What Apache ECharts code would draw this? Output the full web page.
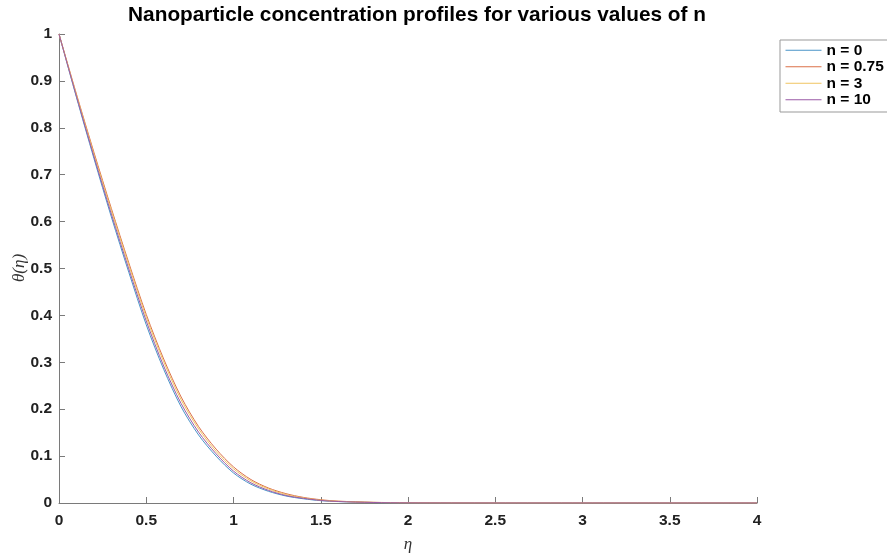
<!DOCTYPE html>
<html>
<head>
<meta charset="utf-8">
<script src="https://cdn.jsdelivr.net/npm/echarts@6/dist/echarts.min.js"></script>
<style>
  html, body { margin: 0; padding: 0; background: #fff; }
</style>
</head>
<body>
<div id="chart" style="width: 887px;height:560px;"></div>
<script>
// eta grid
var eta = [0, 0.1, 0.2, 0.3, 0.4, 0.5, 0.6, 0.7, 0.8, 0.9, 1.0, 1.1, 1.2, 1.3, 1.4, 1.5, 1.6, 1.8, 2.0, 2.5, 3.0, 3.5, 4.0];
// concentration profiles theta(eta)
var theta_n0   = [1, 0.865, 0.735, 0.610, 0.492, 0.380, 0.285, 0.205, 0.145, 0.100, 0.064, 0.040, 0.025, 0.015, 0.009, 0.005, 0.003, 0.001, 0.0003, 0, 0, 0, 0];
var theta_n075 = [1, 0.872, 0.748, 0.628, 0.512, 0.402, 0.307, 0.226, 0.163, 0.115, 0.077, 0.050, 0.032, 0.020, 0.012, 0.007, 0.004, 0.0015, 0.0005, 0, 0, 0, 0];
var theta_n3   = [1, 0.870, 0.744, 0.623, 0.507, 0.396, 0.301, 0.220, 0.158, 0.110, 0.073, 0.047, 0.030, 0.018, 0.011, 0.006, 0.0035, 0.0013, 0.0004, 0, 0, 0, 0];
var theta_n10  = [1, 0.867, 0.739, 0.616, 0.499, 0.388, 0.292, 0.212, 0.151, 0.105, 0.068, 0.043, 0.027, 0.016, 0.010, 0.0055, 0.0032, 0.0011, 0.0003, 0, 0, 0, 0];
var seriesNames = ['n = 0', 'n = 0.75', 'n = 3', 'n = 10'];
var seriesColors = ['#4a94c8', '#db7048', '#f0c460', '#9a5aa6'];

function pairs(ys) {
  var out = [];
  for (var i = 0; i < eta.length; i++) {
    out.push([eta[i], ys[i]]);
  }
  return out;
}

var allData = [theta_n0, theta_n075, theta_n3, theta_n10];
var series = [];
for (var k = 0; k < allData.length; k++) {
  series.push({
    name: seriesNames[k],
    type: 'line',
    symbol: 'none',
    smooth: 0.3,
    data: pairs(allData[k]),
    lineStyle: { color: seriesColors[k], width: 1 },
    itemStyle: { color: seriesColors[k] }
  });
}

var chart = echarts.init(document.getElementById('chart'));
var axisColor = '#7a7a7a';
var option = {
  animation: false,
  backgroundColor: '#fff',
  title: {
    text: 'Nanoparticle concentration profiles for various values of n',
    left: 412,
    textAlign: 'center',
    top: 0,
    textStyle: {
      color: '#000',
      fontFamily: 'Liberation Sans, Arial',
      fontWeight: 'bold',
      fontSize: 20.8
    }
  },
  // y axis title, placed by hand (axis name ignores nameGap here)
  graphic: [{
    type: 'text',
    x: 20,
    y: 268,
    rotation: Math.PI / 2,
    style: {
      text: 'θ(η)',
      fill: '#333',
      font: 'italic 17px "Liberation Serif", serif',
      textAlign: 'center',
      textVerticalAlign: 'middle'
    }
  }],
  legend: {
    orient: 'vertical',
    left: 780,
    top: 40,
    padding: [2, 40, 4, 5],
    itemGap: 0,
    itemWidth: 36,
    itemHeight: 2,
    backgroundColor: '#fff',
    borderColor: '#999',
    borderWidth: 1,
    borderRadius: 0,
    itemStyle: { opacity: 0 },
    lineStyle: { width: 1 },
    data: seriesNames,
    textStyle: {
      color: '#000',
      fontFamily: 'Liberation Sans, Arial',
      fontWeight: 'bold',
      fontSize: 15.5,
      lineHeight: 16.5
    }
  },
  grid: {
    left: 59,
    right: 130,
    top: 34,
    bottom: 57,
    containLabel: false,
    outerBoundsMode: 'none'
  },
  xAxis: {
    type: 'value',
    min: 0,
    max: 4,
    interval: 0.5,
    name: 'η',
    nameLocation: 'middle',
    nameGap: 33,
    nameTextStyle: {
      color: '#333',
      fontFamily: 'Liberation Serif, serif',
      fontStyle: 'italic',
      fontSize: 17
    },
    axisLine: { show: true, lineStyle: { color: axisColor, width: 1 } },
    axisTick: { show: true, inside: true, length: 6, lineStyle: { color: axisColor } },
    splitLine: { show: false },
    axisLabel: {
      color: '#222',
      fontFamily: 'Liberation Sans, Arial',
      fontWeight: 'bold',
      fontSize: 15.5,
      margin: 10
    }
  },
  yAxis: {
    type: 'value',
    min: 0,
    max: 1,
    interval: 0.1,
    axisLine: { show: true, lineStyle: { color: axisColor, width: 1 } },
    axisTick: { show: true, inside: true, length: 6, lineStyle: { color: axisColor } },
    splitLine: { show: false },
    axisLabel: {
      color: '#222',
      fontFamily: 'Liberation Sans, Arial',
      fontWeight: 'bold',
      fontSize: 15.5,
      margin: 7,
      formatter: function (v) { return String(Math.round(v * 10) / 10); }
    }
  },
  series: series
};
chart.setOption(option);
</script>
</body>
</html>
